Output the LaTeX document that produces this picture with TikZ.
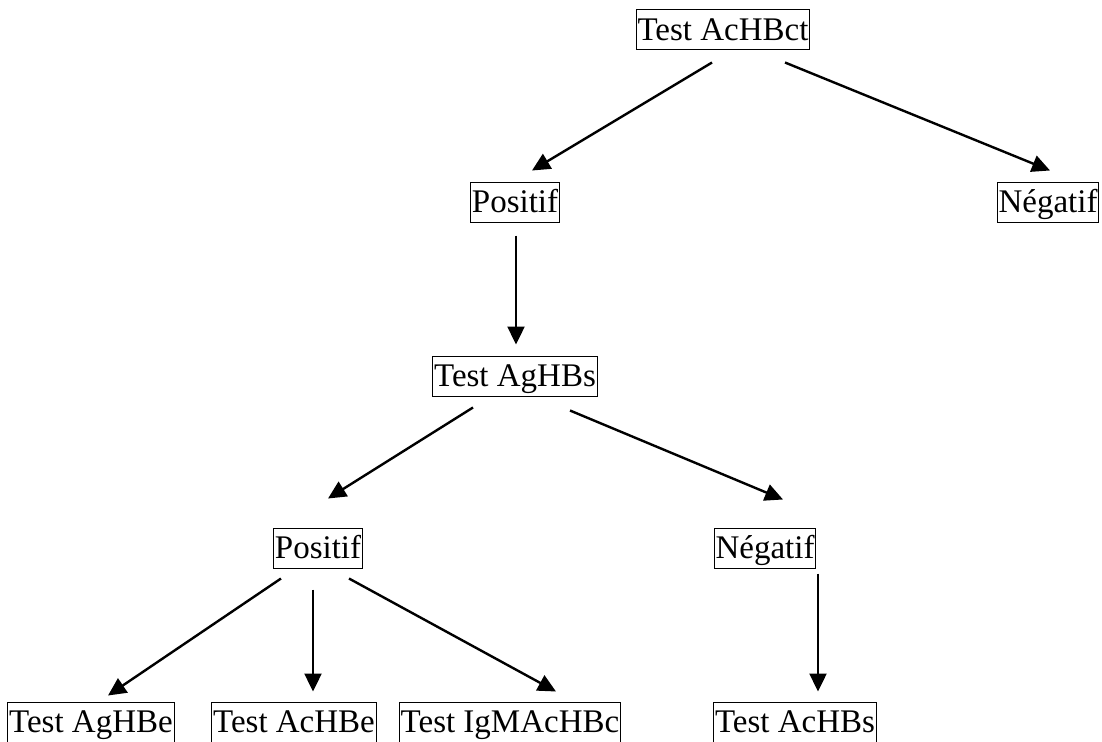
\documentclass[tikz,border=0pt]{standalone}
\usepackage{fontspec}
\setmainfont{Liberation Serif}
\usetikzlibrary{arrows.meta,calc}
\begin{document}
\begin{tikzpicture}[x=1pt,y=-1pt,
  box/.style={draw,line width=1pt,inner xsep=1.5pt,inner ysep=1.5pt,
    text height=29pt,text depth=8pt,font=\fontsize{33}{39}\selectfont},
  arr/.style={line width=2.4pt,-{Triangle[length=18pt,width=17pt]}}]
\useasboundingbox (0,0) rectangle (1102,741);
\node[box] (A) at (723,30) {Test AcHBct};
\node[box] (P1) at (515,202) {Positif};
\node[box] (N1) at (1048,202) {Négatif};
\node[box] (B) at (515,376) {Test AgHBs};
\node[box] (P2) at (318,548) {Positif};
\node[box] (N2) at (765,548) {Négatif};
\node[box] (L1) at (91,722) {Test AgHBe};
\node[box] (L2) at (294,722) {Test AcHBe};
\node[box] (L3) at (510,722) {Test IgMAcHBc};
\node[box] (L4) at (795,722) {Test AcHBs};
\draw[arr] ($(A.south)+(-11,12)$) -- ($(P1.north)+(17,-11)$);
\draw[arr] ($(A.south)+(62,12)$) -- ($(N1.north)+(2,-11)$);
\draw[arr] ($(P1.south)+(1,13)$) -- ($(B.north)+(1,-11)$);
\draw[arr] ($(B.south)+(-42,11)$) -- ($(P2.north)+(10,-29)$);
\draw[arr] ($(B.south)+(55,14)$) -- ($(N2.north)+(18,-28)$);
\draw[arr] ($(P2.south)+(-37,10)$) -- ($(L1.north)+(17,-6)$);
\draw[arr] ($(P2.south)+(-5,21)$) -- ($(L2.north)+(19,-10)$);
\draw[arr] ($(P2.south)+(31,10)$) -- ($(L3.north)+(46,-10)$);
\draw[arr] ($(N2.south)+(53,5)$) -- ($(L4.north)+(23,-10)$);
\end{tikzpicture}
\end{document}
